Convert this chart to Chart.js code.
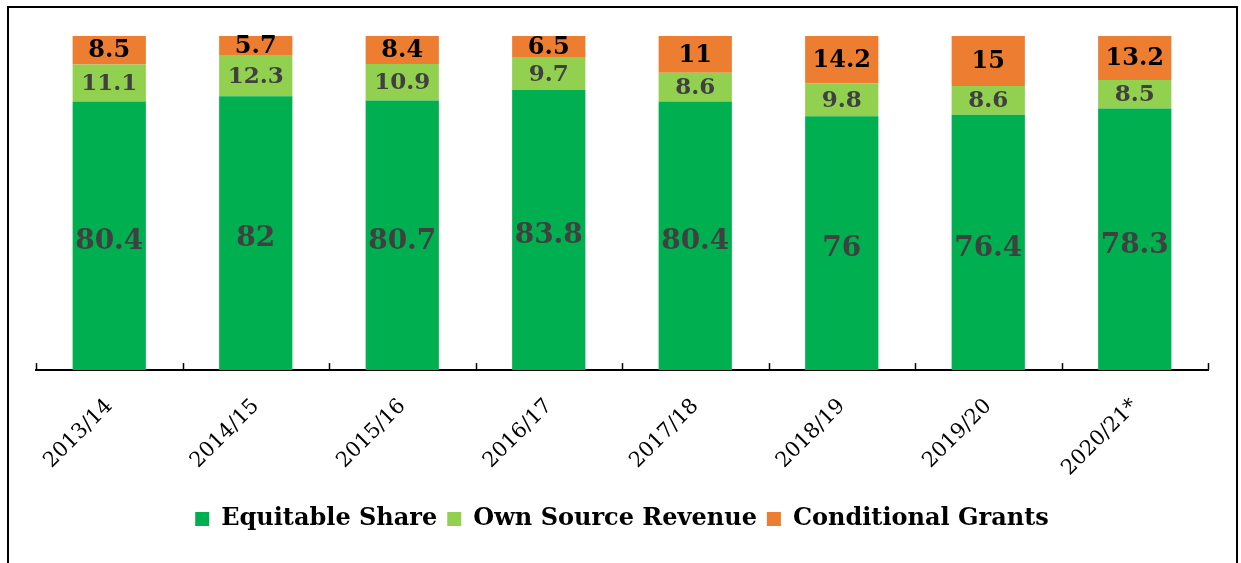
<!DOCTYPE html>
<html>
<head>
<meta charset="utf-8">
<script src="https://cdn.jsdelivr.net/npm/chart.js@4/dist/chart.umd.min.js"></script>
<style>
  html, body { margin: 0; padding: 0; background: #fff; }
  #wrap { width: 1241px; height: 563px; position: relative; }
</style>
</head>
<body>
<div id="wrap"><canvas id="chart"></canvas></div>
<script>
// Años fiscales (eje X)
const years = ['2013/14', '2014/15', '2015/16', '2016/17', '2017/18', '2018/19', '2019/20', '2020/21*'];

// Porcentajes de cada fuente de ingreso
const equitableShare = [80.4, 82, 80.7, 83.8, 80.4, 76, 76.4, 78.3];
const ownSourceRevenue = [11.1, 12.3, 10.9, 9.7, 8.6, 9.8, 8.6, 8.5];
const conditionalGrants = [8.5, 5.7, 8.4, 6.5, 11, 14.2, 15, 13.2];

const serif = "'DejaVu Serif', Georgia, serif";

// Marco negro alrededor del gráfico
const framePlugin = {
  id: 'frame',
  beforeDraw(chart) {
    const ctx = chart.ctx;
    ctx.save();
    ctx.strokeStyle = '#000';
    ctx.lineWidth = 2;
    ctx.strokeRect(8, 7, 1229, 600);
    ctx.restore();
  }
};

// Marcas del eje X hacia arriba, entre categorías
const tickPlugin = {
  id: 'upTicks',
  afterDatasetsDraw(chart) {
    const { ctx, chartArea } = chart;
    const n = years.length;
    const step = (chartArea.right - chartArea.left) / n;
    ctx.save();
    ctx.strokeStyle = '#000';
    ctx.lineWidth = 1.5;
    for (let i = 0; i <= n; i++) {
      const x = Math.round(chartArea.left + i * step) + 0.5;
      ctx.beginPath();
      ctx.moveTo(x, chartArea.bottom);
      ctx.lineTo(x, chartArea.bottom - 7);
      ctx.stroke();
    }
    ctx.restore();
  }
};

// Etiquetas de valores dentro de cada segmento
const labelPlugin = {
  id: 'segLabels',
  afterDatasetsDraw(chart) {
    const ctx = chart.ctx;
    ctx.save();
    ctx.textAlign = 'center';
    ctx.textBaseline = 'middle';
    chart.data.datasets.forEach((ds, di) => {
      const meta = chart.getDatasetMeta(di);
      meta.data.forEach((bar, i) => {
        const y = (bar.y + bar.base) / 2;
        if (di === 0) {
          ctx.font = "bold 28px " + serif;
          ctx.fillStyle = '#404040';
        } else if (di === 1) {
          ctx.font = "bold 23px " + serif;
          ctx.fillStyle = '#404040';
        } else {
          ctx.font = "bold 24px " + serif;
          ctx.fillStyle = '#000';
        }
        ctx.fillText(String(ds.data[i]), bar.x, y + (di === 0 ? 6 : 1));
      });
    });
    ctx.restore();
  }
};

const ctx = document.getElementById('chart').getContext('2d');
window.chart = new Chart(ctx, {
  type: 'bar',
  data: {
    labels: years,
    datasets: [
      { label: 'Equitable Share', data: equitableShare, backgroundColor: '#00B050' },
      { label: 'Own Source Revenue', data: ownSourceRevenue, backgroundColor: '#92D050' },
      { label: 'Conditional Grants', data: conditionalGrants, backgroundColor: '#ED7D31' }
    ]
  },
  options: {
    responsive: true,
    maintainAspectRatio: false,
    animation: false,
    datasets: { bar: { barPercentage: 0.5, categoryPercentage: 1 } },
    layout: { padding: { left: 36, right: 33, top: 36, bottom: 22 } },
    plugins: {
      tooltip: { enabled: false },
      legend: {
        position: 'bottom',
        labels: {
          boxWidth: 14,
          boxHeight: 14,
          padding: 10,
          color: '#000',
          font: { family: serif, size: 24, weight: 'bold' }
        }
      }
    },
    scales: {
      x: {
        stacked: true,
        grid: { display: false },
        border: { color: '#000', width: 2 },
        ticks: {
          color: '#000',
          minRotation: 45,
          maxRotation: 45,
          padding: 16,
          font: { family: serif, size: 21 }
        }
      },
      y: {
        stacked: true,
        display: false,
        min: 0,
        max: 100
      }
    }
  },
  plugins: [framePlugin, tickPlugin, labelPlugin]
});
</script>
</body>
</html>
